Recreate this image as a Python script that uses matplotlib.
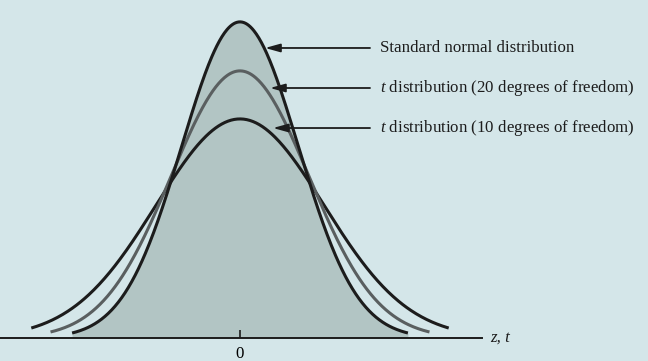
import numpy as np
import matplotlib.pyplot as plt

# curve labels, relative peak heights and spreads
labels = [
    "Standard normal distribution",
    r"$\mathit{t}$ distribution (20 degrees of freedom)",
    r"$\mathit{t}$ distribution (10 degrees of freedom)",
]
peak_ratio = [1.0, 0.845, 0.693]
spread = [1.0, 1.18, 1.44]
tail_end = [2.88, 3.25, 3.58]
arrow_tip_x = [0.43, 0.515, 0.566]
arrow_y = [0.366, 0.3155, 0.265]
tick_values = [0]
tick_labels = ["0"]

BG = "#d4e6e9"
FILL = "#b2c5c4"
LINE_COLORS = ["#1c1c1c", "#5a5f60", "#1c1c1c"]


def curve(x, ratio, s):
    peak = 1 / np.sqrt(2 * np.pi)
    return ratio * peak * np.exp(-0.5 * (x / s) ** 2)


def main():
    plt.rcParams["font.family"] = "Liberation Serif"
    plt.rcParams["mathtext.fontset"] = "custom"
    plt.rcParams["mathtext.rm"] = "Liberation Serif"
    plt.rcParams["mathtext.it"] = "Liberation Serif:italic"

    fig = plt.figure(figsize=(6.48, 3.61), dpi=100, facecolor=BG)
    ax = fig.add_axes([0, 0, 1, 1])
    ax.set_facecolor(BG)

    # shaded area under the standard normal curve
    xs = np.linspace(-tail_end[0], tail_end[0], 400)
    ax.fill_between(xs, 0, curve(xs, peak_ratio[0], spread[0]), color=FILL, lw=0)

    # draw back to front so the normal curve sits on top
    for i in [2, 1, 0]:
        x = np.linspace(-tail_end[i], tail_end[i], 400)
        ax.plot(x, curve(x, peak_ratio[i], spread[i]), color=LINE_COLORS[i],
                lw=2.2, solid_capstyle="butt", zorder=3 + (i == 0))

    for i, label in enumerate(labels):
        ax.annotate("", xy=(arrow_tip_x[i], arrow_y[i]), xytext=(2.23, arrow_y[i]),
                    arrowprops=dict(arrowstyle="-|>,head_length=0.9,head_width=0.25",
                                    color="#1c1c1c", lw=1.3, shrinkA=0, shrinkB=0),
                    zorder=5)
        ax.text(2.40, arrow_y[i], label, fontsize=12.2, va="center", ha="left",
                color="#1c1c1c")

    ax.set_xlim(-240 / 58.3, 408 / 58.3)
    ax.set_ylim(-23 * 0.001262, 338 * 0.001262)

    for side in ["top", "right", "left"]:
        ax.spines[side].set_visible(False)
    ax.spines["bottom"].set_position(("data", 0))
    ax.spines["bottom"].set_bounds(-240 / 58.3, 4.15)
    ax.spines["bottom"].set_linewidth(1.4)
    ax.spines["bottom"].set_color("#1c1c1c")
    ax.spines["bottom"].set_zorder(6)
    ax.set_yticks([])
    ax.set_xticks(tick_values)
    ax.set_xticklabels(tick_labels, fontsize=12.2)
    ax.tick_params(axis="x", direction="in", length=6, width=1.2,
                   color="#1c1c1c", pad=6)

    ax.text(4.29, 0, "z, t", style="italic", fontsize=12.2, va="center",
            ha="left", color="#1c1c1c")

    fig.savefig("out.png", dpi=100, facecolor=BG)
    plt.close(fig)


if __name__ == "__main__":
    main()
